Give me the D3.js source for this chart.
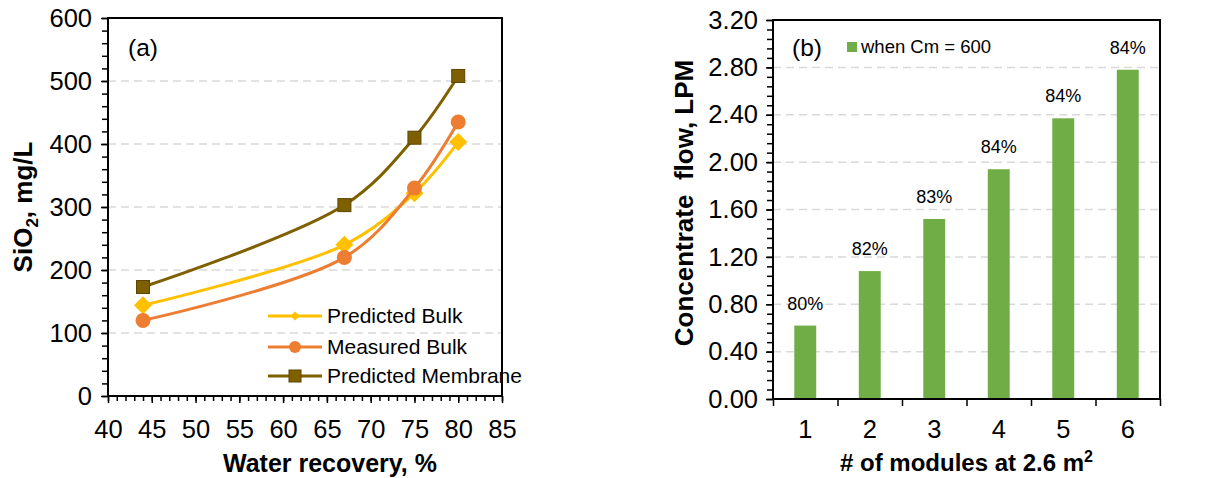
<!DOCTYPE html>
<html>
<head>
<meta charset="utf-8">
<script src="https://cdn.jsdelivr.net/npm/d3@7"></script>
<style>
  html, body { margin: 0; padding: 0; background: #fff; }
  svg { display: block; font-family: "Liberation Sans", Arial, sans-serif; }
</style>
</head>
<body>
<svg id="fig" width="1231" height="478"></svg>
<script>
// ---- Panel (a): SiO2 vs water recovery ----
const recovery = [44, 67, 75, 80];
const predictedBulk = [144, 240, 322, 403];
const measuredBulk = [120, 220, 330, 435];
const predictedMembrane = [173, 303, 410, 508];
const seriesNamesA = ["Predicted Bulk", "Measured Bulk", "Predicted Membrane"];
const seriesColorsA = ["#FFC000", "#ED7D31", "#7F6000"];
const yTicksA = [0, 100, 200, 300, 400, 500, 600];
const xTicksA = [40, 45, 50, 55, 60, 65, 70, 75, 80, 85];

// ---- Panel (b): concentrate flow vs number of modules ----
const modules = ["1", "2", "3", "4", "5", "6"];
const concentrateFlow = [0.62, 1.08, 1.52, 1.94, 2.37, 2.78];
const recoveryLabels = ["80%", "82%", "83%", "84%", "84%", "84%"];
const yTicksB = [0, 0.4, 0.8, 1.2, 1.6, 2.0, 2.4, 2.8, 3.2];
const barColor = "#70AD47";

const svg = d3.select("#fig");
const gridColor = "#d9d9d9";
const tickFont = 25.5;

// =================== Panel (a) ===================
const A = { left: 108, right: 502, top: 18, bottom: 396 };
const xA = d3.scaleLinear().domain([40, 85]).range([A.left, A.right]);
const yA = d3.scaleLinear().domain([0, 600]).range([A.bottom, A.top]);

const gA = svg.append("g");

// dashed gridlines
gA.append("g").selectAll("line")
  .data(yTicksA.filter(v => v > 0 && v < 600))
  .join("line")
  .attr("x1", A.left).attr("x2", A.right)
  .attr("y1", d => yA(d)).attr("y2", d => yA(d))
  .attr("stroke", gridColor).attr("stroke-width", 1.5)
  .attr("stroke-dasharray", "8,5");

// minor ticks
gA.append("g").attr("transform", `translate(${A.left},0)`)
  .call(d3.axisLeft(yA).tickValues(d3.range(0, 601, 20)).tickSize(6).tickFormat(""))
  .call(g => g.select(".domain").remove())
  .call(g => g.selectAll("line").attr("stroke-width", 1.5));
gA.append("g").attr("transform", `translate(0,${A.bottom})`)
  .call(d3.axisBottom(xA).tickValues(d3.range(40, 86, 1)).tickSize(5).tickFormat(""))
  .call(g => g.select(".domain").remove())
  .call(g => g.selectAll("line").attr("stroke-width", 1.5));

// major axes with labels
gA.append("g").attr("transform", `translate(${A.left},0)`)
  .call(d3.axisLeft(yA).tickValues(yTicksA).tickSize(7).tickPadding(9).tickFormat(d3.format("d")))
  .call(g => g.select(".domain").remove())
  .call(g => g.selectAll("line").attr("stroke-width", 1.5))
  .call(g => g.selectAll("text").attr("font-size", tickFont).attr("fill", "#000")
    .attr("font-family", "Liberation Sans, Arial, sans-serif"));
gA.append("g").attr("transform", `translate(0,${A.bottom})`)
  .call(d3.axisBottom(xA).tickValues(xTicksA).tickSize(7).tickPadding(17).tickFormat(d3.format("d")))
  .call(g => g.select(".domain").remove())
  .call(g => g.selectAll("line").attr("stroke-width", 1.5))
  .call(g => g.selectAll("text").attr("font-size", tickFont).attr("fill", "#000")
    .attr("font-family", "Liberation Sans, Arial, sans-serif"));

// plot frame
gA.append("rect")
  .attr("x", A.left).attr("y", A.top)
  .attr("width", A.right - A.left).attr("height", A.bottom - A.top)
  .attr("fill", "none").attr("stroke", "#000").attr("stroke-width", 2);

// series
const seriesA = [predictedBulk, measuredBulk, predictedMembrane];
const lineA = d3.line()
  .x((d, i) => xA(recovery[i]))
  .y(d => yA(d))
  .curve(d3.curveCatmullRom.alpha(0.5));

const diamond = (s) => `M0,${-s}L${s},0L0,${s}L${-s},0Z`;

function drawMarker(g, type, color, size) {
  if (type === 0) {
    g.append("path").attr("d", diamond(size)).attr("fill", color);
  } else if (type === 1) {
    g.append("circle").attr("r", size).attr("fill", color);
  } else {
    g.append("rect").attr("x", -size).attr("y", -size)
      .attr("width", size * 2).attr("height", size * 2)
      .attr("fill", color).attr("stroke", "#5c4500").attr("stroke-width", 1);
  }
}

seriesA.forEach((vals, k) => {
  const s = gA.append("g");
  s.append("path").datum(vals).attr("d", lineA)
    .attr("fill", "none").attr("stroke", seriesColorsA[k]).attr("stroke-width", 3);
  vals.forEach((v, i) => {
    const m = s.append("g").attr("transform", `translate(${xA(recovery[i])},${yA(v)})`);
    drawMarker(m, k, seriesColorsA[k], [9, 7.5, 6.5][k]);
  });
});

// legend
const legA = gA.append("g");
seriesNamesA.forEach((name, k) => {
  const ly = [316, 347, 376][k];
  const row = legA.append("g").attr("transform", `translate(0,${ly})`);
  row.append("line").attr("x1", 268).attr("x2", 322)
    .attr("stroke", seriesColorsA[k]).attr("stroke-width", 3);
  const m = row.append("g").attr("transform", "translate(295,0)");
  drawMarker(m, k, seriesColorsA[k], [4.5, 6, 6][k]);
  row.append("text").attr("x", 327).attr("y", 0).attr("dy", "0.35em")
    .attr("font-size", 21).attr("fill", "#000").text(name);
});

// panel letter
gA.append("text").attr("x", 128).attr("y", 56).attr("font-size", 24.5).text("(a)");

// axis titles
gA.append("text")
  .attr("x", 330).attr("y", 472)
  .attr("text-anchor", "middle").attr("font-size", 25).attr("font-weight", "bold")
  .text("Water recovery, %");

const yTitleA = gA.append("text")
  .attr("transform", "translate(32,207) rotate(-90)")
  .attr("text-anchor", "middle").attr("font-size", 26).attr("font-weight", "bold");
yTitleA.append("tspan").text("SiO");
yTitleA.append("tspan").attr("font-size", 17).attr("dy", 6).text("2");
yTitleA.append("tspan").attr("dy", -6).text(", mg/L");

// =================== Panel (b) ===================
const B = { left: 773, right: 1160, top: 20, bottom: 399 };
const xB = d3.scaleBand().domain(modules).range([B.left, B.right])
  .paddingInner(0.66).paddingOuter(0.33);
const xBEdges = d3.scaleLinear().domain([0, modules.length]).range([B.left, B.right]);
const yB = d3.scaleLinear().domain([0, 3.2]).range([B.bottom, B.top]);

const gB = svg.append("g");

gB.append("g").selectAll("line")
  .data(yTicksB.filter(v => v > 0 && v < 3.2))
  .join("line")
  .attr("x1", B.left).attr("x2", B.right)
  .attr("y1", d => yB(d)).attr("y2", d => yB(d))
  .attr("stroke", gridColor).attr("stroke-width", 1.5)
  .attr("stroke-dasharray", "8,5");

// minor y ticks
gB.append("g").attr("transform", `translate(${B.left},0)`)
  .call(d3.axisLeft(yB).tickValues(d3.range(0, 41).map(i => i * 0.08)).tickSize(6).tickFormat(""))
  .call(g => g.select(".domain").remove())
  .call(g => g.selectAll("line").attr("stroke-width", 1.5));

gB.append("g").attr("transform", `translate(${B.left},0)`)
  .call(d3.axisLeft(yB).tickValues(yTicksB).tickSize(7).tickPadding(8).tickFormat(d3.format(".2f")))
  .call(g => g.select(".domain").remove())
  .call(g => g.selectAll("line").attr("stroke-width", 1.5))
  .call(g => g.selectAll("text").attr("font-size", tickFont).attr("fill", "#000")
    .attr("font-family", "Liberation Sans, Arial, sans-serif"));

// category boundary ticks
gB.append("g").attr("transform", `translate(0,${B.bottom})`)
  .call(d3.axisBottom(xBEdges).tickValues(d3.range(0, modules.length + 1)).tickSize(7).tickFormat(""))
  .call(g => g.select(".domain").remove())
  .call(g => g.selectAll("line").attr("stroke-width", 1.5));

// category labels
gB.append("g").attr("transform", `translate(0,${B.bottom})`)
  .call(d3.axisBottom(xB).tickSize(0).tickPadding(21))
  .call(g => g.select(".domain").remove())
  .call(g => g.selectAll("text").attr("font-size", tickFont).attr("fill", "#000")
    .attr("font-family", "Liberation Sans, Arial, sans-serif"));

// bars
gB.append("g").selectAll("rect")
  .data(concentrateFlow)
  .join("rect")
  .attr("x", (d, i) => xB(modules[i]))
  .attr("width", xB.bandwidth())
  .attr("y", d => yB(d))
  .attr("height", d => yB(0) - yB(d))
  .attr("fill", barColor);

// recovery labels above bars
gB.append("g").selectAll("text")
  .data(concentrateFlow)
  .join("text")
  .attr("x", (d, i) => xB(modules[i]) + xB.bandwidth() / 2)
  .attr("y", d => yB(d) - 16)
  .attr("text-anchor", "middle").attr("font-size", 18).attr("fill", "#000")
  .text((d, i) => recoveryLabels[i]);

// frame
gB.append("rect")
  .attr("x", B.left).attr("y", B.top)
  .attr("width", B.right - B.left).attr("height", B.bottom - B.top)
  .attr("fill", "none").attr("stroke", "#000").attr("stroke-width", 2);

// legend
gB.append("rect").attr("x", 847).attr("y", 42).attr("width", 10).attr("height", 10).attr("fill", barColor);
gB.append("text").attr("x", 861).attr("y", 47).attr("dy", "0.35em")
  .attr("font-size", 18.5).attr("fill", "#000").text("when Cm = 600");

gB.append("text").attr("x", 792).attr("y", 56).attr("font-size", 24.5).text("(b)");

// axis titles
const xTitleB = gB.append("text")
  .attr("x", (B.left + B.right) / 2).attr("y", 471)
  .attr("text-anchor", "middle").attr("font-size", 24).attr("font-weight", "bold");
xTitleB.append("tspan").text("# of modules at 2.6 m");
xTitleB.append("tspan").attr("font-size", 16).attr("dy", -9).text("2");

gB.append("text")
  .attr("transform", "translate(693,203) rotate(-90)")
  .attr("text-anchor", "middle").attr("font-size", 26).attr("font-weight", "bold")
  .style("white-space", "pre")
  .text("Concentrate  flow, LPM");
</script>
</body>
</html>
